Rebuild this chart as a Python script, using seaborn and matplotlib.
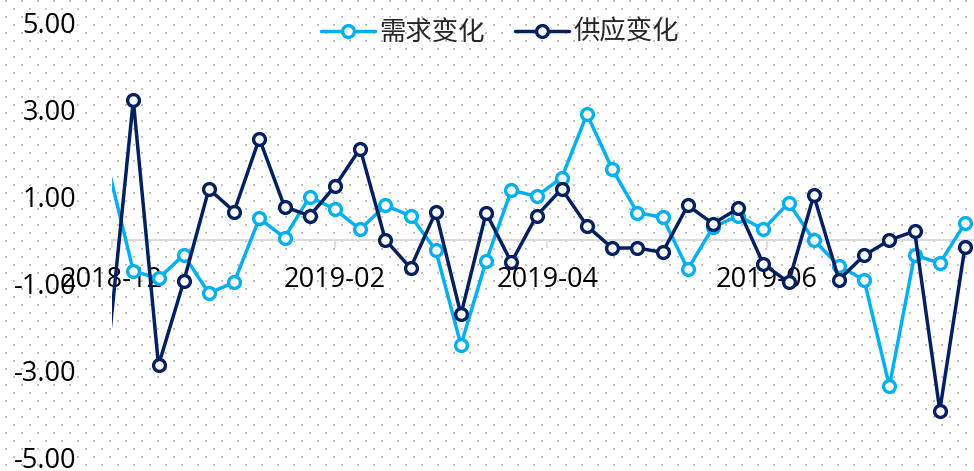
import numpy as np
import pandas as pd
import matplotlib
matplotlib.use('Agg')
from matplotlib import pyplot as plt
from matplotlib.lines import Line2D
from matplotlib.ticker import FormatStrFormatter
import matplotlib.dates as mdates
import seaborn as sns

# weekly data, first week sits just left of the visible range
weeks = pd.date_range('2018-11-30', periods=35, freq='7D')
demand = [1.67, -0.72, -0.89, -0.35, -1.23, -0.98, 0.49, 0.05, 0.99, 0.70,
          0.24, 0.79, 0.55, -0.24, -2.42, -0.49, 1.14, 1.00, 1.43, 2.89,
          1.63, 0.62, 0.52, -0.68, 0.29, 0.55, 0.24, 0.85, -0.01, -0.60,
          -0.93, -3.37, -0.35, -0.54, 0.38]
supply = [-2.55, 3.21, -2.89, -0.96, 1.17, 0.65, 2.33, 0.76, 0.55, 1.23,
          2.10, 0.00, -0.65, 0.64, -1.72, 0.62, -0.52, 0.55, 1.17, 0.32,
          -0.19, -0.19, -0.29, 0.79, 0.37, 0.72, -0.56, -0.98, 1.02, -0.92,
          -0.36, -0.01, 0.20, -3.93, -0.16]
series_names = ['需求变化', '供应变化']
series_colors = ['#00B0F0', '#002060']
y_ticks = [-5, -3, -1, 1, 3, 5]

sns.set_style('white')
plt.rcParams['font.family'] = ['Open Sans', 'Noto Sans CJK SC', 'DejaVu Sans']
plt.rcParams['axes.unicode_minus'] = False

W, H = 974, 471
fig = plt.figure(figsize=(W / 100, H / 100), dpi=100)
fig.patch.set_facecolor('white')

# dotted pattern background
bg = fig.add_axes([0, 0, 1, 1], zorder=-1)
bg.set_xlim(0, W)
bg.set_ylim(H, 0)
bg.axis('off')
for i, yy in enumerate(np.arange(1, H, 8)):
    xs = np.arange(6 if i % 2 == 0 else 14, W, 16)
    bg.scatter(xs, np.full(len(xs), yy), s=2.2, marker='s', color='#c4c4c4', linewidths=0)

left = 111.7 / W
ax = fig.add_axes([left, (H - 457) / H, 1 - left, (457 - 22.5) / H])
ax.patch.set_alpha(0)

lw, ms, mew = 2.5, 8.5, 2.4
df = pd.DataFrame({'week': weeks, series_names[0]: demand, series_names[1]: supply})
for name, color in zip(series_names, series_colors):
    sns.lineplot(data=df, x='week', y=name, ax=ax, color=color, linewidth=lw,
                 marker='o', markersize=ms, markerfacecolor='white',
                 markeredgecolor=color, markeredgewidth=mew,
                 markevery=list(range(1, len(df))), zorder=3)

ax.set_ylim(-5, 5)
ax.set_yticks(y_ticks)
ax.yaxis.set_major_formatter(FormatStrFormatter('%.2f'))
ax.set_xlim(pd.Timestamp('2018-12-01'), pd.Timestamp('2019-07-28 12:00'))
ax.xaxis.set_major_locator(mdates.MonthLocator(bymonth=[2, 4, 6, 8, 10, 12]))
ax.xaxis.set_major_formatter(mdates.DateFormatter('%Y-%m'))
ax.set_xlabel('')
ax.set_ylabel('')

for s in ['top', 'right', 'left']:
    ax.spines[s].set_visible(False)
ax.spines['bottom'].set_position(('data', 0))
ax.spines['bottom'].set_color('#d9d9d9')
ax.spines['bottom'].set_linewidth(1.5)
ax.tick_params(axis='x', bottom=True, length=5.8, width=1.1, color='#d9d9d9',
               direction='out', pad=13, labelsize=19.5, labelcolor='black')
ax.tick_params(axis='y', left=False, length=0, pad=25.7, labelsize=19.5, labelcolor='black')

handles = [Line2D([], [], color=c, lw=lw, marker='o', ms=ms, mfc='white', mec=c, mew=mew)
           for c in series_colors]
fig.legend(handles, series_names, loc='center', bbox_to_anchor=(500 / W, 1 - 33.3 / H),
           ncol=2, frameon=False, fontsize=19, handlelength=2.05, handletextpad=0.16,
           columnspacing=1.14, borderpad=0, numpoints=1)

fig.savefig('out.png', dpi=100)
